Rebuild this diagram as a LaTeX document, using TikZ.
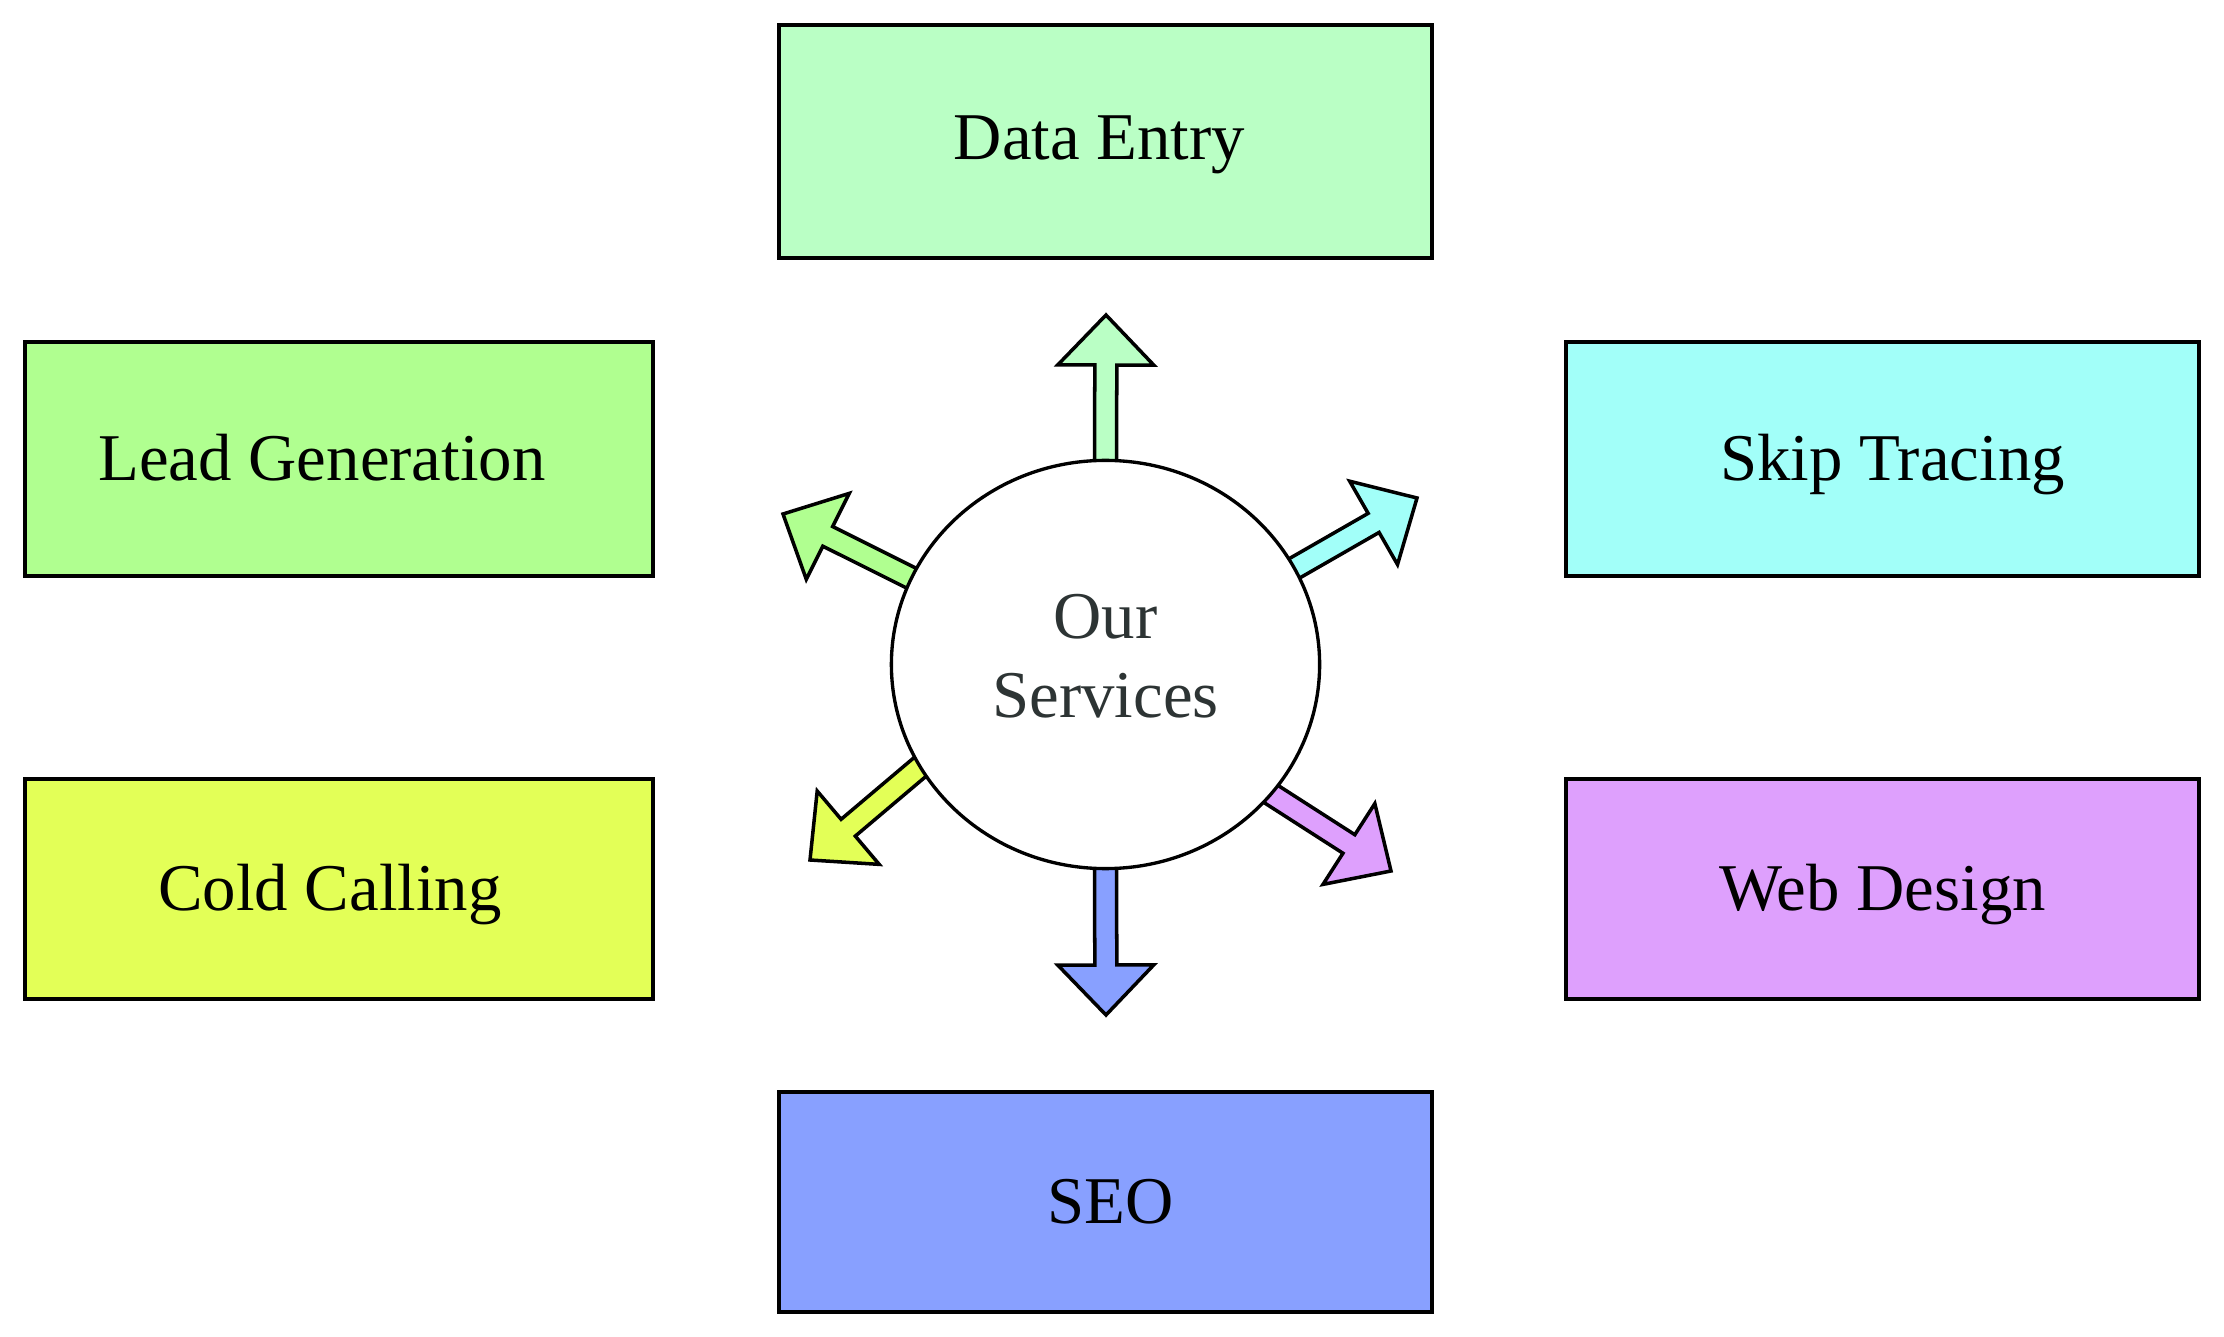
\documentclass[tikz,border=0pt]{standalone}
\usepackage{fontspec}
\setmainfont{Liberation Serif}
\usetikzlibrary{calc,shapes.geometric,backgrounds}
\definecolor{cDE}{RGB}{186,255,197}
\definecolor{cLG}{RGB}{176,255,144}
\definecolor{cST}{RGB}{162,255,249}
\definecolor{cCC}{RGB}{227,255,87}
\definecolor{cWD}{RGB}{222,160,253}
\definecolor{cSEO}{RGB}{136,160,255}
\definecolor{cTxt}{RGB}{45,52,52}
\tikzset{
  svcbox/.style={draw=black, line width=1.14pt, rectangle, inner sep=0pt,
    text height=12.4pt, text depth=0pt, font=\fontsize{19}{22.5}\selectfont},
  arrowshape/.style={draw=black, line width=1pt, line join=miter},
  hub/.style={draw=black, line width=0.95pt, ellipse, fill=white, inner sep=0pt,
    minimum width=4.28cm, minimum height=4.08cm},
}
\newcommand\svcarrow[4]{%
  \coordinate (#1p) at ($(#2)!-0.15cm!(#3)$);
  \coordinate (#1b) at ($(#3)!0.5cm!(#1p)$);
  \draw[arrowshape, fill=#4]
    ($(#1p)!0.11cm!90:(#3)$) -- ($(#1b)!0.11cm!90:(#3)$) -- ($(#1b)!0.48cm!90:(#3)$)
    -- (#3) -- ($(#1b)!0.48cm!-90:(#3)$) -- ($(#1b)!0.11cm!-90:(#3)$)
    -- ($(#1p)!0.11cm!-90:(#3)$) -- cycle;
}
\begin{document}
\begin{tikzpicture}[x=0.01cm, y=-0.01cm]
\useasboundingbox (0,0) rectangle (2224,1337);

\node[svcbox, fill=cDE, text height=10.4pt, minimum width=6.53cm, minimum height=2.33cm] (de) at (1105.5,141.5) {\hspace*{-0.12cm}Data Entry};
\node[svcbox, fill=cLG, minimum width=6.28cm, minimum height=2.34cm] (lg) at (339,459) {\hspace*{-0.34cm}Lead Generation};
\node[svcbox, fill=cST, minimum width=6.33cm, minimum height=2.34cm] (st) at (1882.5,459) {\hspace*{0.2cm}Skip Tracing};
\node[svcbox, fill=cCC, minimum width=6.28cm, minimum height=2.20cm] (cc) at (339,889) {\hspace*{-0.18cm}Cold Calling};
\node[svcbox, fill=cWD, minimum width=6.33cm, minimum height=2.20cm] (wd) at (1882.5,889) {Web Design};
\node[svcbox, fill=cSEO, minimum width=6.53cm, minimum height=2.20cm] (seo) at (1105.5,1202) {\hspace*{0.1cm}SEO};

\node[hub] (ov) at (1105.5,664.5) {};
\node[text=cTxt, align=center, font=\fontsize{19}{22.5}\selectfont, inner sep=0pt] (ovt) at (1105.5,656) {Our\\Services};

\coordinate (tUp) at (1106,315);
\coordinate (tDn) at (1106,1015);
\coordinate (tUL) at (783,514);
\coordinate (tUR) at (1417,498);
\coordinate (tLL) at (810,860);
\coordinate (tLR) at (1391,871);

\begin{scope}[on background layer]
\svcarrow{aUp}{ov.90}{tUp}{cDE}
\svcarrow{aDn}{ov.270}{tDn}{cSEO}
\svcarrow{aUL}{ov.156.4}{tUL}{cLG}
\svcarrow{aUR}{ov.27.2}{tUR}{cST}
\svcarrow{aLL}{ov.209.3}{tLL}{cCC}
\svcarrow{aLR}{ov.322.9}{tLR}{cWD}
\end{scope}
\end{tikzpicture}
\end{document}
